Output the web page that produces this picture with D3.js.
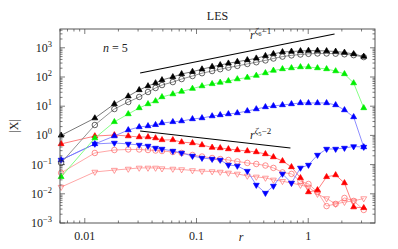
<!DOCTYPE html>
<html>
<head>
<meta charset="utf-8">
<script src="https://cdn.jsdelivr.net/npm/d3@7"></script>
<style>
  body { margin: 0; background: #fff; }
  svg text { font-family: "Liberation Serif", "DejaVu Serif", serif; fill: #222; }
</style>
</head>
<body>
<div id="chart"></div>
<script>
// separation r (grid steps of 2pi/1024 then log spaced up to pi)
const rVals = [0.00614, 0.0123, 0.0184, 0.0245, 0.0307, 0.0368, 0.0430, 0.0491, 0.0614, 0.0736,
  0.0920, 0.112, 0.138, 0.163, 0.193, 0.232, 0.285, 0.343, 0.414, 0.488,
  0.588, 0.708, 0.852, 1.005, 1.21, 1.46, 1.76, 2.11, 2.55, 3.14]

// black filled triangles
const blackTri = [1.0, 3.9, 11.9, 22, 36, 49, 62, 79, 100, 127,
  152, 185, 225, 258, 294, 334, 382, 437, 530, 620,
  718, 747, 777, 800, 800, 777, 747, 690, 614, 503]
// black open circles
const blackCirc = [0.114, 2.27, 8.0, 13.9, 20.7, 30.6, 42, 53, 67, 85,
  108, 135, 160, 185, 210, 240, 280, 320, 370, 430,
  500, 550, 590, 620, 640, 640, 630, 600, 560, 480]
// green filled triangles
const greenTri = [0.038, 0.81, 2.9, 5.4, 8.7, 11.9, 15, 20.7, 26, 32,
  40, 49, 58, 65, 73, 85, 96, 112, 137, 167,
  188, 203, 220, 220, 203, 188, 160, 127, 62, 8.7]
// blue filled triangles (up)
const blueUp = [0.144, 0.51, 0.95, 1.53, 1.94, 2.1, 2.3, 2.66, 2.9, 3.1,
  3.65, 3.94, 4.6, 5.0, 5.4, 5.85, 6.85, 8.0, 9.4, 10.2,
  11.0, 11.9, 12.9, 12.9, 12.9, 12.9, 11.0, 7.4, 4.27, 0.40]
// red filled triangles (up)
const redUp = [0.51, 0.95, 1.03, 0.95, 0.88, 0.88, 0.81, 0.70, 0.70, 0.59,
  0.55, 0.47, 0.385, 0.37, 0.342, 0.316, 0.292, 0.27, 0.231, 0.182,
  0.133, 0.083, 0.035, 0.0115, 0.0135, 0.038, 0.044, 0.0234, 0.0035, 0.0033]
// blue filled triangles (down)
const blueDown = [0.144, 0.51, 0.55, 0.51, 0.47, 0.434, 0.37, 0.342, 0.292, 0.25,
  0.197, 0.168, 0.155, 0.144, 0.097, 0.09, 0.06, 0.02, 0.0106, 0.0185,
  0.048, 0.0234, 0.077, 0.097, 0.213, 0.342, 0.342, 0.37, 0.417, 0.40]
// red open circles
const redCirc = [0.052, 0.25, 0.316, 0.33, 0.33, 0.316, 0.304, 0.292, 0.27, 0.25,
  0.213, 0.189, 0.168, 0.155, 0.144, 0.128, 0.114, 0.105, 0.093, 0.077,
  0.054, 0.048, 0.027, 0.0217, 0.0115, 0.0038, 0.0045, 0.0072, 0.0057, 0.0028]
// red open triangles (down)
const redDown = [0.017, 0.056, 0.065, 0.071, 0.077, 0.077, 0.077, 0.073, 0.071, 0.068,
  0.063, 0.060, 0.058, 0.056, 0.052, 0.048, 0.041, 0.038, 0.035, 0.030,
  0.027, 0.0234, 0.020, 0.017, 0.0098, 0.0069, 0.0045, 0.0052, 0.0057, 0.0069]

// reference power laws
const refZeta6 = [[0.0313, 137], [1.72, 2970]]
const refZeta5 = [[0.0313, 1.42], [0.693, 0.37]]

const yTickVals = [1e-3, 1e-2, 1e-1, 1e0, 1e1, 1e2, 1e3]
const yTickExp = ['-3', '-2', '-1', '0', '1', '2', '3']
const xTickVals = [0.01, 0.1, 1]
const xTickText = ['0.01', '0.1', '1']

const serif = '"Liberation Serif", "DejaVu Serif", serif'

const margin = { top: 29, right: 23, bottom: 26, left: 60 }
const width = 398 - margin.left - margin.right
const height = 249 - margin.top - margin.bottom

const svg = d3.select('#chart')
  .append('svg')
  .attr('width', 398)
  .attr('height', 249)
  .attr('font-family', serif)

const g = svg.append('g')
  .attr('transform', `translate(${margin.left}, ${margin.top})`)

const x = d3.scaleLog().domain([0.006, 3.96]).range([0, width])
const y = d3.scaleLog().domain([1e-3, 4400]).range([height, 0])

// ticks (inward, mirrored)
const xMinor = []
for (const dec of [0.001, 0.01, 0.1, 1]) {
  for (let m = 2; m <= 9; m++) {
    const v = dec * m
    if (v >= 0.006 && v <= 3.96) xMinor.push(v)
  }
}
const yMinor = []
for (const dec of [0.001, 0.01, 0.1, 1, 10, 100, 1000]) {
  for (let m = 2; m <= 9; m++) {
    const v = dec * m
    if (v <= 4400) yMinor.push(v)
  }
}

const ticks = g.append('g').attr('stroke', '#444').attr('stroke-width', 0.7)
xMinor.forEach(v => {
  ticks.append('line').attr('x1', x(v)).attr('x2', x(v)).attr('y1', height).attr('y2', height - 2.5)
  ticks.append('line').attr('x1', x(v)).attr('x2', x(v)).attr('y1', 0).attr('y2', 2.5)
})
xTickVals.forEach(v => {
  ticks.append('line').attr('x1', x(v)).attr('x2', x(v)).attr('y1', height).attr('y2', height - 5)
  ticks.append('line').attr('x1', x(v)).attr('x2', x(v)).attr('y1', 0).attr('y2', 5)
})
yMinor.forEach(v => {
  ticks.append('line').attr('x1', 0).attr('x2', 2.5).attr('y1', y(v)).attr('y2', y(v))
  ticks.append('line').attr('x1', width).attr('x2', width - 2.5).attr('y1', y(v)).attr('y2', y(v))
})
yTickVals.forEach(v => {
  ticks.append('line').attr('x1', 0).attr('x2', 5).attr('y1', y(v)).attr('y2', y(v))
  ticks.append('line').attr('x1', width).attr('x2', width - 5).attr('y1', y(v)).attr('y2', y(v))
})

// tick labels
xTickVals.forEach((v, i) => {
  g.append('text')
    .attr('x', x(v))
    .attr('y', height + 17)
    .attr('text-anchor', 'middle')
    .attr('font-family', serif)
    .style('font-size', '12px')
    .text(xTickText[i])
})
yTickVals.forEach((v, i) => {
  const t = g.append('text')
    .attr('x', -8)
    .attr('y', y(v) + 4)
    .attr('text-anchor', 'end')
    .attr('font-family', serif)
    .style('font-size', '12px')
  t.append('tspan').text('10')
  t.append('tspan').attr('dy', -5).style('font-size', '8.5px').text(yTickExp[i].replace('-', '\u2212'))
})

// series
const series = [
  { vals: redDown, color: '#ff7070', line: '#ff9090', shape: 'tri', down: true, fill: false },
  { vals: redCirc, color: '#ff6060', line: '#ff9090', shape: 'circ', down: false, fill: false },
  { vals: blueDown, color: '#0000ff', line: '#7070ff', shape: 'tri', down: true, fill: true },
  { vals: redUp, color: '#ff0000', line: '#ff6060', shape: 'tri', down: false, fill: true },
  { vals: blueUp, color: '#0000ff', line: '#7070ff', shape: 'tri', down: false, fill: true },
  { vals: greenTri, color: '#00ee00', line: '#66ff66', shape: 'tri', down: false, fill: true },
  { vals: blackCirc, color: '#222', line: '#777', shape: 'circ', down: false, fill: false },
  { vals: blackTri, color: '#000', line: '#555', shape: 'tri', down: false, fill: true }
]

const line = d3.line()
  .x(d => x(d[0]))
  .y(d => y(d[1]))

series.forEach(s => {
  const pts = rVals.map((r, i) => [r, s.vals[i]])
  g.append('path')
    .datum(pts)
    .attr('d', line)
    .attr('fill', 'none')
    .attr('stroke', s.line)
    .attr('stroke-width', 0.8)
  const sym = d3.symbol()
    .type(s.shape === 'tri' ? d3.symbolTriangle : d3.symbolCircle)
    .size(s.shape === 'tri' ? 15 : 24)
  g.append('g')
    .selectAll('path')
    .data(pts)
    .join('path')
    .attr('d', sym)
    .attr('transform', d => `translate(${x(d[0])}, ${y(d[1])})` + (s.down ? ' rotate(180)' : ''))
    .attr('fill', s.fill ? s.color : 'none')
    .attr('stroke', s.color)
    .attr('stroke-width', 0.7)
})

// power-law guides
;[refZeta6, refZeta5].forEach(ref => {
  g.append('path')
    .datum(ref)
    .attr('d', line)
    .attr('fill', 'none')
    .attr('stroke', '#000')
    .attr('stroke-width', 1.1)
})

// frame
g.append('rect')
  .attr('width', width)
  .attr('height', height)
  .attr('fill', 'none')
  .attr('stroke', '#444')
  .attr('stroke-width', 0.9)

// labels
function powerLabel (px, py, sub, tail) {
  const t = g.append('text').attr('x', px).attr('y', py)
    .attr('font-family', serif).style('font-size', '12px')
  t.append('tspan').style('font-style', 'italic').text('r')
  t.append('tspan').attr('dy', -5).style('font-size', '9px').style('font-style', 'italic').text('\u03B6')
  t.append('tspan').attr('dy', 2).style('font-size', '6.5px').text(sub)
  t.append('tspan').attr('dy', -2).style('font-size', '9px').text(tail)
}
powerLabel(250 - margin.left, 39 - margin.top, '6', '\u22121')
powerLabel(250 - margin.left, 139 - margin.top, '5', '\u22122')

const nLabel = g.append('text')
  .attr('x', 103 - margin.left)
  .attr('y', 52 - margin.top)
  .attr('font-family', serif)
  .style('font-size', '12px')
nLabel.append('tspan').style('font-style', 'italic').text('n')
nLabel.append('tspan').text(' = 5')

svg.append('text')
  .attr('x', margin.left + width / 2)
  .attr('y', 20)
  .attr('text-anchor', 'middle')
  .style('font-size', '12px')
  .text('LES')

svg.append('text')
  .attr('x', 241)
  .attr('y', 241)
  .attr('text-anchor', 'middle')
  .style('font-size', '12px')
  .style('font-style', 'italic')
  .text('r')

svg.append('text')
  .attr('transform', 'translate(18, 126) rotate(-90)')
  .attr('text-anchor', 'middle')
  .style('font-size', '12px')
  .text('|X|')
</script>
</body>
</html>
